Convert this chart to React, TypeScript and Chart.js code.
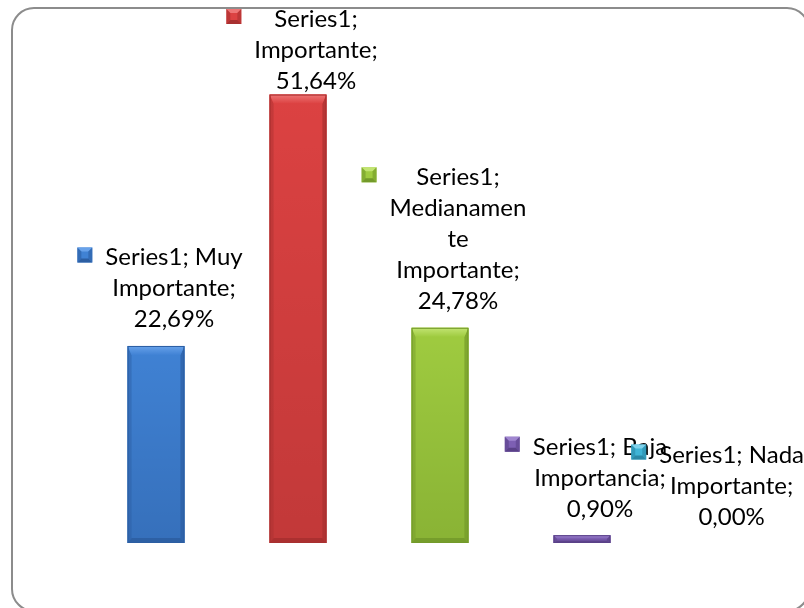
import React, { useEffect, useRef } from "react";
import { Chart, registerables } from "chart.js";

Chart.register(...registerables);

const seriesName = "Series1";
const categories = [
  "Muy Importante",
  "Importante",
  "Medianamente Importante",
  "Baja Importancia",
  "Nada Importante",
];
const values = [22.69, 51.64, 24.78, 0.9, 0.0];
const baseColors = ["#4082d4", "#dc4242", "#9fcb40", "#7d5fb3", "#3fb4d6"];
const lightColors = ["#68a2ea", "#ee7676", "#c2e472", "#a086d0", "#7fd2ec"];
const darkColors = ["#2c5ea2", "#a83030", "#739a2a", "#5a4188", "#2a88a6"];

const FONT = "24px Lato, 'Open Sans', sans-serif";
const LINE_H = 31;
const WRAP_W = 147;
const BREAK_W = 140;

function fmt(v: number) {
  return v.toFixed(2).replace(".", ",") + "%";
}

function wrap(ctx: CanvasRenderingContext2D, text: string, maxW: number, breakW: number) {
  const words = text.split(" ");
  const lines: string[] = [];
  let cur = "";
  for (let w of words) {
    const test = cur ? cur + " " + w : w;
    if (ctx.measureText(test).width <= maxW && ctx.measureText(w).width <= breakW) {
      cur = test;
      continue;
    }
    if (cur) lines.push(cur);
    cur = "";
    while (ctx.measureText(w).width > breakW) {
      let i = w.length;
      while (i > 1 && ctx.measureText(w.slice(0, i)).width > breakW) i--;
      lines.push(w.slice(0, i));
      w = w.slice(i);
    }
    cur = w;
  }
  if (cur) lines.push(cur);
  return lines;
}

function drawMarker(ctx: CanvasRenderingContext2D, x: number, y: number, s: number, i: number) {
  const b = 4;
  ctx.fillStyle = baseColors[i];
  ctx.fillRect(x, y, s, s);
  ctx.fillStyle = lightColors[i];
  ctx.beginPath();
  ctx.moveTo(x, y); ctx.lineTo(x + s, y); ctx.lineTo(x + s - b, y + b); ctx.lineTo(x + b, y + b);
  ctx.closePath(); ctx.fill();
  ctx.fillStyle = darkColors[i];
  ctx.beginPath();
  ctx.moveTo(x, y + s); ctx.lineTo(x + s, y + s); ctx.lineTo(x + s - b, y + s - b); ctx.lineTo(x + b, y + s - b);
  ctx.closePath(); ctx.fill();
  ctx.fillStyle = darkColors[i];
  ctx.globalAlpha = 0.6;
  ctx.beginPath();
  ctx.moveTo(x, y); ctx.lineTo(x + b, y + b); ctx.lineTo(x + b, y + s - b); ctx.lineTo(x, y + s);
  ctx.closePath(); ctx.fill();
  ctx.beginPath();
  ctx.moveTo(x + s, y); ctx.lineTo(x + s - b, y + b); ctx.lineTo(x + s - b, y + s - b); ctx.lineTo(x + s, y + s);
  ctx.closePath(); ctx.fill();
  ctx.globalAlpha = 1;
}

const framePlugin = {
  id: "frame",
  beforeDraw(chart: any) {
    const ctx = chart.ctx as CanvasRenderingContext2D;
    ctx.save();
    ctx.fillStyle = "#ffffff";
    ctx.fillRect(0, 0, chart.width, chart.height);
    ctx.strokeStyle = "#8c8c8c";
    ctx.lineWidth = 2;
    ctx.beginPath();
    (ctx as any).roundRect(12, 8, 797, 603, 22);
    ctx.stroke();
    ctx.restore();
  },
};

const bevelPlugin = {
  id: "bevelBars",
  afterDatasetsDraw(chart: any) {
    const ctx = chart.ctx as CanvasRenderingContext2D;
    const meta = chart.getDatasetMeta(0);
    ctx.save();
    meta.data.forEach((bar: any, i: number) => {
      const p = bar.getProps(["x", "y", "base", "width"], true);
      const L = p.x - p.width / 2;
      const R = p.x + p.width / 2;
      const T = Math.min(p.y, p.base);
      const B = Math.max(p.y, p.base);
      const h = B - T;
      if (h < 0.5) return;
      const g = ctx.createLinearGradient(0, T, 0, B);
      g.addColorStop(0, baseColors[i]);
      g.addColorStop(1, darkColors[i]);
      ctx.fillStyle = g;
      ctx.globalAlpha = 1;
      ctx.fillRect(L, T, R - L, h);
      ctx.fillStyle = baseColors[i];
      ctx.globalAlpha = 0.5;
      ctx.fillRect(L, T, R - L, h);
      ctx.globalAlpha = 1;
      const bt = Math.min(9, h * 0.45);
      const bb = Math.min(5, h * 0.3);
      const s = Math.min(4, bt);
      ctx.fillStyle = darkColors[i];
      ctx.globalAlpha = 0.45;
      ctx.beginPath();
      ctx.moveTo(L, T); ctx.lineTo(L + s, T + bt); ctx.lineTo(L + s, B - bb); ctx.lineTo(L, B);
      ctx.closePath(); ctx.fill();
      ctx.globalAlpha = 0.7;
      ctx.beginPath();
      ctx.moveTo(R, T); ctx.lineTo(R - s, T + bt); ctx.lineTo(R - s, B - bb); ctx.lineTo(R, B);
      ctx.closePath(); ctx.fill();
      ctx.globalAlpha = 0.9;
      ctx.beginPath();
      ctx.moveTo(L, B); ctx.lineTo(R, B); ctx.lineTo(R - s, B - bb); ctx.lineTo(L + s, B - bb);
      ctx.closePath(); ctx.fill();
      ctx.globalAlpha = 1;
      const tg = ctx.createLinearGradient(0, T, 0, T + bt);
      tg.addColorStop(0, lightColors[i]);
      tg.addColorStop(1, baseColors[i]);
      ctx.fillStyle = tg;
      ctx.beginPath();
      ctx.moveTo(L, T); ctx.lineTo(R, T); ctx.lineTo(R - s, T + bt); ctx.lineTo(L + s, T + bt);
      ctx.closePath(); ctx.fill();
      ctx.strokeStyle = darkColors[i];
      ctx.lineWidth = 1;
      ctx.strokeRect(L + 0.5, T + 0.5, R - L - 1, h - 1);
    });
    ctx.restore();
  },
};

const labelPlugin = {
  id: "legendKeyLabels",
  afterDraw(chart: any) {
    const ctx = chart.ctx as CanvasRenderingContext2D;
    const meta = chart.getDatasetMeta(0);
    ctx.save();
    ctx.font = FONT;
    ctx.textAlign = "center";
    ctx.textBaseline = "alphabetic";
    meta.data.forEach((bar: any, i: number) => {
      const p = bar.getProps(["x", "y"], true);
      const text = `${seriesName}; ${categories[i]}; ${fmt(values[i])}`;
      const lines = wrap(ctx, text, WRAP_W, BREAK_W);
      const W = Math.max(...lines.map((l) => ctx.measureText(l).width));
      const ms = 15, gap = 13;
      const blockW = ms + gap + W;
      let left = p.x + 4 - blockW / 2;
      if (left + blockW > 804) left = 804 - blockW;
      const lastBase = p.y - 18.5;
      let firstBase = lastBase - (lines.length - 1) * LINE_H;
      if (firstBase < 27) firstBase = 27;
      const tc = left + ms + gap + W / 2;
      drawMarker(ctx, left, firstBase - 18, ms, i);
      ctx.fillStyle = "#000000";
      lines.forEach((l, k) => ctx.fillText(l, tc, firstBase + k * LINE_H));
    });
    ctx.restore();
  },
};

export default function App() {
  const ref = useRef<HTMLCanvasElement | null>(null);
  useEffect(() => {
    if (!ref.current) return;
    const chart = new Chart(ref.current, {
      type: "bar",
      data: {
        labels: categories,
        datasets: [
          {
            label: seriesName,
            data: values,
            backgroundColor: baseColors,
            borderWidth: 0,
            categoryPercentage: 0.8,
            barPercentage: 0.5,
          },
        ],
      },
      options: {
        animation: false,
        responsive: false,
        maintainAspectRatio: false,
        layout: { padding: { left: 85, right: 9, top: 22, bottom: 65 } },
        scales: {
          x: { display: false },
          y: { display: false, min: 0, max: 60 },
        },
        plugins: {
          legend: { display: false },
          tooltip: { enabled: false },
        },
      },
      plugins: [framePlugin, bevelPlugin, labelPlugin],
    });
    let alive = true;
    if ((document as any).fonts?.load) {
      (document as any).fonts.load(FONT).then(() => { if (alive) chart.update(); });
    }
    return () => { alive = false; chart.destroy(); };
  }, []);
  return (
    <div style={{ position: "fixed", left: 0, top: 0, width: 804, height: 608 }}>
      <canvas ref={ref} width={804} height={608} style={{ display: "block", width: 804, height: 608 }} />
    </div>
  );
}
